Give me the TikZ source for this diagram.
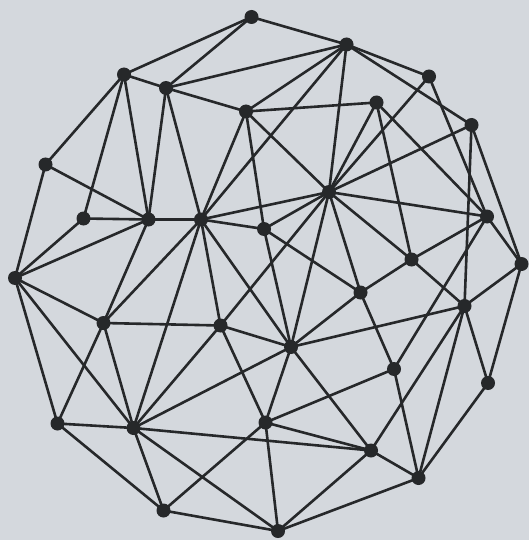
\documentclass[tikz,border=0pt]{standalone}
\usetikzlibrary{backgrounds}
\definecolor{bgc}{RGB}{212,216,221}
\definecolor{ink}{RGB}{38,40,42}
\begin{document}
\begin{tikzpicture}[x=1pt,y=-1pt,
  dot/.style={circle,fill=ink,inner sep=0pt,minimum size=14pt},
  edge/.style={draw=ink,line width=2.6pt}]
\fill[bgc] (0,0) rectangle (529,540);
\useasboundingbox (0,0) rectangle (529,540);
\foreach \n/\x/\y in {A/251.5/17,B/346.5/44.5,C/124/74.5,D/166/88,E/429/76.5,F/376.5/102.5,
  G/246/111.5,H/471.5/125,I/45.5/164.5,J/329/192,K/83.5/218.5,L/148.5/219.5,M/201/219.5,
  N/264/229,O/487/216.5,P/411.5/259.5,Q/521.5/264,R/15/278,S/360.5/292.5,T/464.5/306,
  U/103.5/323,V/220.5/325.5,W/291/347,X/394/369,Y/488/383,Z/57.5/423.5,AA/133.5/428,
  AB/265.5/422.5,AC/371/450.5,AD/418.5/478,AE/163.5/510.5,AF/278/531}
  \coordinate (\n) at (\x,\y);
\foreach \a/\b in {A/B,A/C,A/D,B/D,B/E,B/G,B/H,B/J,B/M,C/D,C/I,C/K,C/L,D/G,D/L,D/M,
  E/J,E/O,F/G,F/J,F/O,F/P,G/J,G/M,G/N,H/J,H/T,H/Q,I/R,I/L,
  J/M,J/N,J/O,J/P,J/S,J/W,J/V,K/L,K/R,L/M,L/R,L/U,
  M/N,M/U,M/AA,M/V,M/W,N/S,N/W,O/P,O/Q,O/X,P/S,P/T,Q/T,Q/Y,
  R/U,R/Z,R/AA,S/X,S/W,T/Y,T/AD,T/AC,T/W,U/V,U/Z,U/AA,
  V/W,V/AB,V/AA,W/AB,W/AC,W/AA,X/AB,X/AD,Y/AD,Z/AA,Z/AE,
  AA/AC,AA/AF,AA/AE,AB/AC,AB/AE,AB/AF,AC/AF,AC/AD,AD/AF,AE/AF}
  \draw[edge] (\a) -- (\b);
\foreach \n in {A,B,C,D,E,F,G,H,I,J,K,L,M,N,O,P,Q,R,S,T,U,V,W,X,Y,Z,AA,AB,AC,AD,AE,AF}
  \node[dot] (n\n) at (\n) {};
\end{tikzpicture}
\end{document}
